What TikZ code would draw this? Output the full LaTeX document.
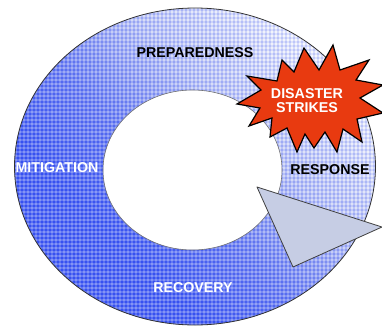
\documentclass[tikz,border=0pt]{standalone}
\usepackage{fontspec}
\setmainfont{Liberation Sans}
\definecolor{RingDark}{HTML}{3650F0}
\definecolor{RingMid}{HTML}{6276F0}
\definecolor{RingLight}{HTML}{BCC5F5}
\definecolor{RingPale}{HTML}{F2F4FD}
\definecolor{StarRed}{HTML}{E83A10}
\definecolor{TipGray}{HTML}{C6CDE4}
\usetikzlibrary{positioning}

% dark blue low left, fading out towards the top right
\pgfdeclarehorizontalshading{ringfade}{100bp}{color(0bp)=(RingDark); color(34bp)=(RingDark);
  color(46bp)=(RingMid); color(59bp)=(RingLight); color(74bp)=(RingPale); color(100bp)=(RingPale)}

\begin{document}
\begin{tikzpicture}[x=1bp,y=-1bp,
        phase/.style={font=\fontsize{14.3}{14}\selectfont\bfseries,
                      inner sep=0pt,align=center},
        rim/.style={draw=black!80,line width=0.8bp},
        mesh/.style={line width=1.2bp}]
        \useasboundingbox (0,0) rectangle (382,331);
        \fill[white] (0,0) rectangle (382,331);

        % the ring
        \path[even odd rule,shading=ringfade,shading angle=45]
          (195,166.5) ellipse [x radius=180.5,y radius=158.5]
          (192.5,170) ellipse [x radius=89.5,y radius=80];

        % halftone mesh on the ring
        \begin{scope}[even odd rule]
          \clip (195,166.5) ellipse [x radius=180.5,y radius=158.5]
                (192.5,170) ellipse [x radius=89.5,y radius=80];
          \foreach \k in {0,4,...,380}{
            \draw[mesh,white,opacity=0.22] (\k,0) -- (\k,331);
            \draw[mesh,white,opacity=0.22] (0,\k) -- (382,\k);
            \draw[mesh,RingDark,opacity=0.14] (\k+2,0) -- (\k+2,331);
            \draw[mesh,RingDark,opacity=0.14] (0,\k+2) -- (382,\k+2);
          }
        \end{scope}
        \draw[rim] (195,166.5) ellipse [x radius=180.5,y radius=158.5];
        \draw[rim,draw=black!55,line width=0.6bp]
          (192.5,170) ellipse [x radius=89.5,y radius=80];

        % arrow head
        \draw[fill=TipGray,draw=black!75,line width=0.8bp,line join=round]
          (257,187) -- (382,227) -- (293,267) -- cycle;

        % burst
        \draw[fill=StarRed,draw=black,line width=1.2bp]
          (304,48) -- (319,70) -- (333,45) -- (340,70) -- (369,60)
          -- (356,80) -- (383,85) -- (360,98) -- (383,113) -- (357,119)
          -- (362,142) -- (343,129) -- (337,152) -- (325,132) -- (314,148)
          -- (305,134) -- (297,152) -- (287,128) -- (270,137) -- (272,118)
          -- (249,126) -- (260,108) -- (237,104) -- (261,90) -- (247,76)
          -- (277,81) -- (282,60) -- (294,72) -- cycle;
        \node[phase,text=white] (strike) at (307,101) {DISASTER\\STRIKES};

        % phases
        \node[phase] (prep) at (195,53) {PREPAREDNESS};
        \node[phase,text=white] (miti) at (57,168) {MITIGATION};
        \node[phase] (resp) at (330,170) {RESPONSE};
        \node[phase,text=white] (reco) at (193,288) {RECOVERY};
      \end{tikzpicture}
\end{document}
